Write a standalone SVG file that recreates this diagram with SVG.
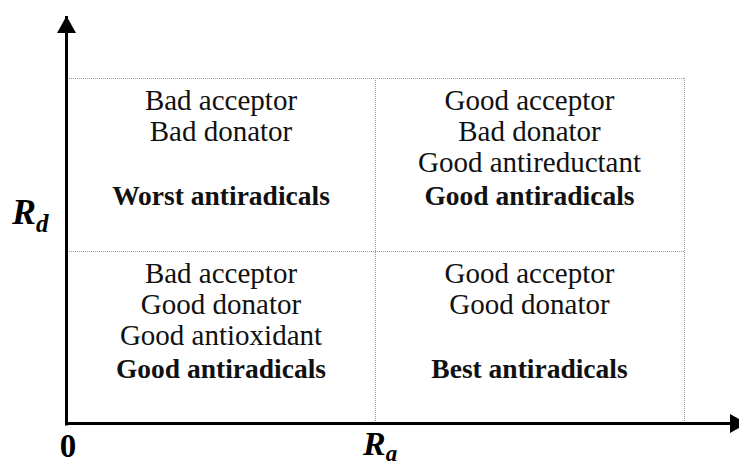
<svg xmlns="http://www.w3.org/2000/svg" width="739" height="466" viewBox="0 0 739 466">
<style>
.t{font-family:"Liberation Serif","Times New Roman",serif;font-size:29px;fill:#111;text-anchor:middle}
.b{font-weight:bold;font-size:27.5px}
.grid{stroke:#9a9a9a;stroke-width:1;stroke-dasharray:1 1;fill:none}
.axis{stroke:#000;stroke-width:3;fill:none}
.lab{font-family:"Liberation Serif","Times New Roman",serif;font-weight:bold;fill:#000}
</style>
<defs>
<marker id="ah" markerWidth="19" markerHeight="19" viewBox="0 0 19 19" refX="17" refY="9.5" orient="auto" markerUnits="userSpaceOnUse">
<path d="M0,0 L17,9.5 L0,19 Z" fill="#000"/>
</marker>
</defs>
<rect width="739" height="466" fill="#fff"/>
<g id="grid">
<path class="grid" d="M67,78.5H684M67,251.5H684M375.5,78V424M684.5,78V424"/>
</g>
<g id="connectors">
<path class="axis" d="M66.5,425.5V16" marker-end="url(#ah)"/>
<path class="axis" d="M65,423.5H747" marker-end="url(#ah)"/>
</g>
<g id="q-top-left">
<text class="t" x="221" y="110">Bad acceptor</text>
<text class="t" x="221" y="141">Bad donator</text>
<text class="t b" x="221" y="205">Worst antiradicals</text>
</g>
<g id="q-top-right">
<text class="t" x="529.5" y="110">Good acceptor</text>
<text class="t" x="529.5" y="141">Bad donator</text>
<text class="t" x="529.5" y="172">Good antireductant</text>
<text class="t b" x="529.5" y="205">Good antiradicals</text>
</g>
<g id="q-bottom-left">
<text class="t" x="221" y="283">Bad acceptor</text>
<text class="t" x="221" y="314">Good donator</text>
<text class="t" x="221" y="345">Good antioxidant</text>
<text class="t b" x="221" y="378">Good antiradicals</text>
</g>
<g id="q-bottom-right">
<text class="t" x="529.5" y="283">Good acceptor</text>
<text class="t" x="529.5" y="314">Good donator</text>
<text class="t b" x="529.5" y="378">Best antiradicals</text>
</g>
<g id="labels">
<text class="lab" x="68" y="457" font-size="33" text-anchor="middle">0</text>
<text class="lab" x="12" y="224" font-size="36" font-style="italic">R<tspan font-size="25" dy="8">d</tspan></text>
<text class="lab" x="363" y="455" font-size="34" font-style="italic">R<tspan font-size="23" dy="6">a</tspan></text>
</g>
</svg>
